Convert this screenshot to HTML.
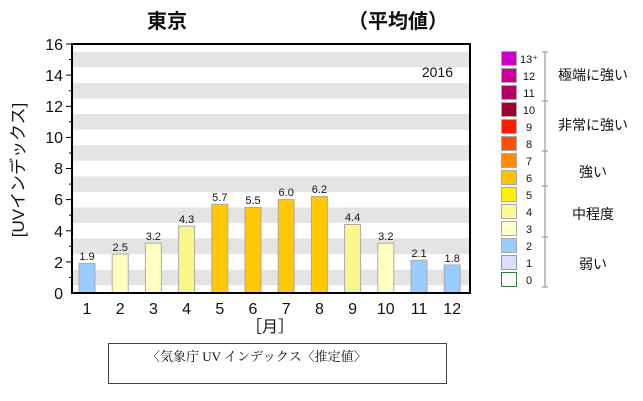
<!DOCTYPE html>
<html><head><meta charset="utf-8"><style>
html,body{margin:0;padding:0;background:#fff;width:643px;height:401px;overflow:hidden}
svg{display:block}
text{font-family:"Liberation Sans","Noto Sans CJK JP",sans-serif;fill:#111}
</style></head><body>
<svg width="643" height="401" viewBox="0 0 643 401" xmlns="http://www.w3.org/2000/svg">
<text x="167" y="28" font-size="20" font-weight="bold" text-anchor="middle">東京</text>
<text x="398" y="28" font-size="20" font-weight="bold" text-anchor="middle">（平均値）</text>
<g fill="#e4e4e4" transform="translate(0,293) scale(1,-15.5625)">
<rect x="72" y="0.5" width="398" height="1"/><rect x="72" y="2.5" width="398" height="1"/>
<rect x="72" y="4.5" width="398" height="1"/><rect x="72" y="6.5" width="398" height="1"/>
<rect x="72" y="8.5" width="398" height="1"/><rect x="72" y="10.5" width="398" height="1"/>
<rect x="72" y="12.5" width="398" height="1"/><rect x="72" y="14.5" width="398" height="1"/>
</g>
<text x="453" y="77" font-size="14" text-anchor="end">2016</text>
<g stroke="#aaa" stroke-width="1">
<rect x="79" y="263.4" width="16" height="29.6" fill="#99ccff"/>
<rect x="112.2" y="254.1" width="16" height="38.9" fill="#ffffc0"/>
<rect x="145.4" y="243.2" width="16" height="49.8" fill="#ffffc0"/>
<rect x="178.6" y="226.1" width="16" height="66.9" fill="#f8f88a"/>
<rect x="211.8" y="204.3" width="16" height="88.7" fill="#ffc800"/>
<rect x="245" y="207.4" width="16" height="85.6" fill="#ffc800"/>
<rect x="278.2" y="199.6" width="16" height="93.4" fill="#ffc800"/>
<rect x="311.4" y="196.5" width="16" height="96.5" fill="#ffc800"/>
<rect x="344.6" y="224.5" width="16" height="68.5" fill="#f8f88a"/>
<rect x="377.8" y="243.2" width="16" height="49.8" fill="#ffffc0"/>
<rect x="411" y="260.3" width="16" height="32.7" fill="#99ccff"/>
<rect x="444.2" y="265" width="16" height="28" fill="#99ccff"/>
</g>
<g font-size="11" text-anchor="middle">
<text x="87" y="260">1.9</text><text x="120.2" y="251">2.5</text><text x="153.4" y="240">3.2</text>
<text x="186.6" y="223">4.3</text><text x="219.8" y="201">5.7</text><text x="253" y="204">5.5</text>
<text x="286.2" y="196">6.0</text><text x="319.4" y="193">6.2</text><text x="352.6" y="221">4.4</text>
<text x="385.8" y="240">3.2</text><text x="419" y="257">2.1</text><text x="452.2" y="262">1.8</text>
</g>
<rect x="72" y="44" width="398" height="249" fill="none" stroke="#000" stroke-width="2"/>
<g stroke="#000" stroke-width="1">
<line x1="66" y1="44" x2="72" y2="44"/><line x1="66" y1="75.1" x2="72" y2="75.1"/><line x1="66" y1="106.3" x2="72" y2="106.3"/>
<line x1="66" y1="137.4" x2="72" y2="137.4"/><line x1="66" y1="168.5" x2="72" y2="168.5"/><line x1="66" y1="199.6" x2="72" y2="199.6"/>
<line x1="66" y1="230.8" x2="72" y2="230.8"/><line x1="66" y1="261.9" x2="72" y2="261.9"/>
<line x1="69" y1="59.6" x2="72" y2="59.6"/><line x1="69" y1="90.7" x2="72" y2="90.7"/><line x1="69" y1="121.8" x2="72" y2="121.8"/>
<line x1="69" y1="153" x2="72" y2="153"/><line x1="69" y1="184.1" x2="72" y2="184.1"/><line x1="69" y1="215.2" x2="72" y2="215.2"/>
<line x1="69" y1="246.3" x2="72" y2="246.3"/><line x1="69" y1="277.4" x2="72" y2="277.4"/>
</g>
<g font-size="16" text-anchor="end">
<text x="63" y="50">16</text><text x="63" y="81">14</text><text x="63" y="112">12</text><text x="63" y="143">10</text>
<text x="63" y="174">8</text><text x="63" y="205">6</text><text x="63" y="237">4</text><text x="63" y="268">2</text><text x="63" y="299">0</text>
</g>
<g font-size="16" text-anchor="middle">
<text x="87" y="314">1</text><text x="120.2" y="314">2</text><text x="153.4" y="314">3</text><text x="186.6" y="314">4</text>
<text x="219.8" y="314">5</text><text x="253" y="314">6</text><text x="286.2" y="314">7</text><text x="319.4" y="314">8</text>
<text x="352.6" y="314">9</text><text x="385.8" y="314">10</text><text x="419" y="314">11</text><text x="452.2" y="314">12</text>
</g>
<text x="270" y="332" font-size="16" text-anchor="middle">［月］</text>
<text transform="translate(24,170) rotate(-90)" font-size="17" text-anchor="middle">[UVインデックス]</text>
<g stroke="#aaa" stroke-width="1">
<rect x="501.5" y="51.5" width="15" height="14" fill="#cc00cc"/>
<rect x="501.5" y="68.5" width="15" height="14" fill="#cc0099"/>
<rect x="501.5" y="85.5" width="15" height="14" fill="#b30066"/>
<rect x="501.5" y="102.5" width="15" height="14" fill="#a00030"/>
<rect x="501.5" y="119.5" width="15" height="14" fill="#ff1a00"/>
<rect x="501.5" y="136.5" width="15" height="14" fill="#ff5000"/>
<rect x="501.5" y="153.5" width="15" height="14" fill="#ff8c00"/>
<rect x="501.5" y="170.5" width="15" height="14" fill="#ffc000"/>
<rect x="501.5" y="187.5" width="15" height="14" fill="#fff000"/>
<rect x="501.5" y="204.5" width="15" height="14" fill="#fafa90"/>
<rect x="501.5" y="221.5" width="15" height="14" fill="#ffffc8"/>
<rect x="501.5" y="238.5" width="15" height="14" fill="#99ccff"/>
<rect x="501.5" y="255.5" width="15" height="14" fill="#dcdcff" stroke="#8a8"/>
<rect x="501.5" y="272.5" width="15" height="14" fill="#fff" stroke="#3a7a3a"/>
</g>
<g font-size="11" text-anchor="middle">
<text x="529" y="63">13⁺</text><text x="529" y="80">12</text><text x="529" y="97">11</text><text x="529" y="114">10</text>
<text x="529" y="131">9</text><text x="529" y="148">8</text><text x="529" y="165">7</text><text x="529" y="182">6</text>
<text x="529" y="199">5</text><text x="529" y="216">4</text><text x="529" y="233">3</text><text x="529" y="250">2</text>
<text x="529" y="267">1</text><text x="529" y="284">0</text>
</g>
<g stroke="#999" stroke-width="1.2">
<line x1="545" y1="52" x2="545" y2="287"/>
<line x1="542" y1="52" x2="548" y2="52"/><line x1="542" y1="101" x2="548" y2="101"/>
<line x1="542" y1="151" x2="548" y2="151"/><line x1="542" y1="186" x2="548" y2="186"/>
<line x1="542" y1="237" x2="548" y2="237"/><line x1="542" y1="287" x2="548" y2="287"/>
</g>
<g font-size="14" text-anchor="middle">
<text x="593" y="80">極端に強い</text><text x="593" y="130">非常に強い</text>
<text x="593" y="177">強い</text><text x="593" y="219">中程度</text><text x="593" y="269">弱い</text>
</g>
<rect x="108.5" y="343.5" width="338" height="40" fill="none" stroke="#444" stroke-width="1"/>
<text x="147" y="361" font-size="13" style="font-family:'Liberation Serif','Noto Serif CJK SC',serif">〈気象庁 UV インデックス〈推定値〉</text>
</svg>
</body></html>
